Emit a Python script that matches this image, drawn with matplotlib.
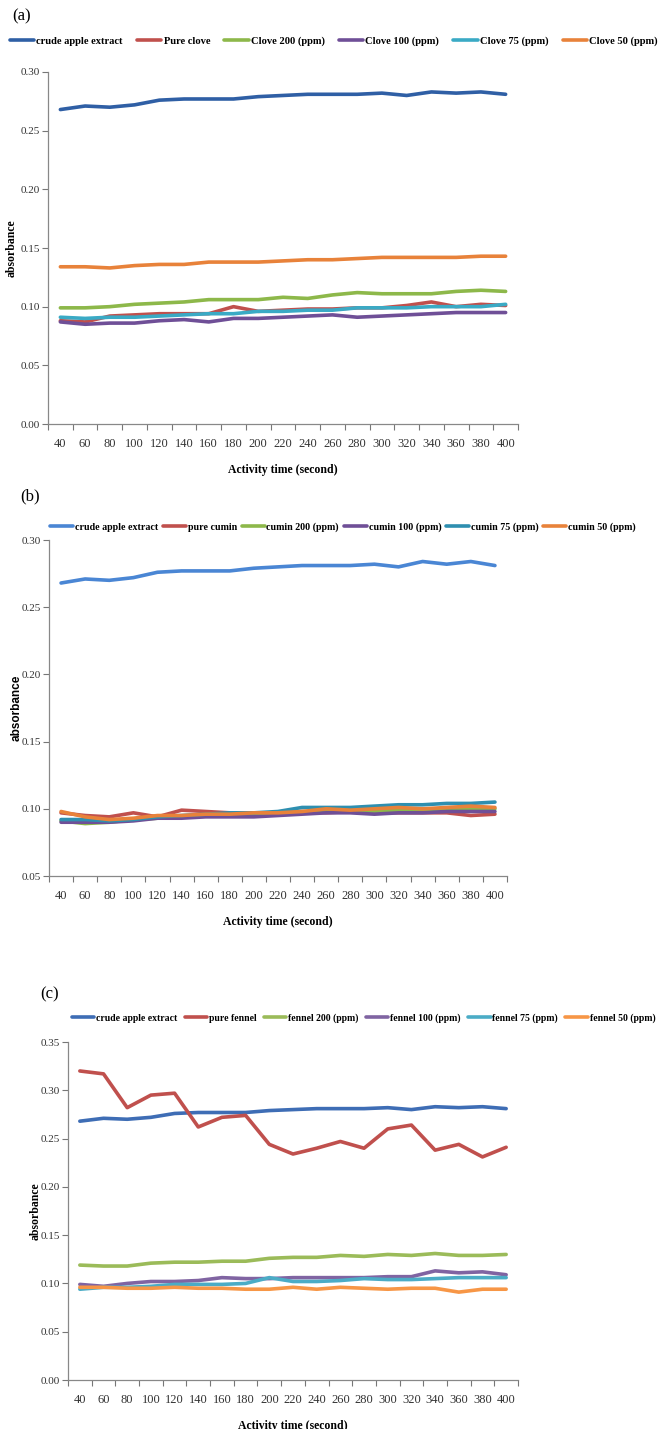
import matplotlib
matplotlib.use("Agg")
import matplotlib.pyplot as plt
import numpy as np

times = [40, 60, 80, 100, 120, 140, 160, 180, 200, 220, 240, 260, 280, 300, 320, 340, 360, 380, 400]

# Panel (a) clove
a_labels = ["crude apple extract", "Pure clove", "Clove 200 (ppm)", "Clove 100 (ppm)", "Clove 75 (ppm)", "Clove 50 (ppm)"]
a_crude = [0.268, 0.271, 0.270, 0.272, 0.276, 0.277, 0.277, 0.277, 0.279, 0.280, 0.281, 0.281, 0.281, 0.282, 0.280, 0.283, 0.282, 0.283, 0.281]
a_pure = [0.088, 0.087, 0.092, 0.093, 0.094, 0.094, 0.094, 0.100, 0.096, 0.097, 0.098, 0.098, 0.099, 0.099, 0.101, 0.104, 0.100, 0.102, 0.101]
a_200 = [0.099, 0.099, 0.100, 0.102, 0.103, 0.104, 0.106, 0.106, 0.106, 0.108, 0.107, 0.110, 0.112, 0.111, 0.111, 0.111, 0.113, 0.114, 0.113]
a_100 = [0.087, 0.085, 0.086, 0.086, 0.088, 0.089, 0.087, 0.090, 0.090, 0.091, 0.092, 0.093, 0.091, 0.092, 0.093, 0.094, 0.095, 0.095, 0.095]
a_75 = [0.091, 0.090, 0.091, 0.091, 0.092, 0.093, 0.094, 0.094, 0.096, 0.096, 0.097, 0.097, 0.099, 0.099, 0.099, 0.100, 0.100, 0.100, 0.102]
a_50 = [0.134, 0.134, 0.133, 0.135, 0.136, 0.136, 0.138, 0.138, 0.138, 0.139, 0.140, 0.140, 0.141, 0.142, 0.142, 0.142, 0.142, 0.143, 0.143]

# Panel (b) cumin
b_labels = ["crude apple extract", "pure cumin", "cumin 200 (ppm)", "cumin 100 (ppm)", "cumin 75 (ppm)", "cumin 50 (ppm)"]
b_crude = [0.268, 0.271, 0.270, 0.272, 0.276, 0.277, 0.277, 0.277, 0.279, 0.280, 0.281, 0.281, 0.281, 0.282, 0.280, 0.284, 0.282, 0.284, 0.281]
b_pure = [0.097, 0.095, 0.094, 0.097, 0.094, 0.099, 0.098, 0.097, 0.097, 0.097, 0.098, 0.097, 0.098, 0.097, 0.097, 0.097, 0.097, 0.095, 0.096]
b_200 = [0.091, 0.089, 0.090, 0.092, 0.093, 0.094, 0.095, 0.096, 0.096, 0.096, 0.097, 0.098, 0.098, 0.098, 0.099, 0.099, 0.100, 0.100, 0.100]
b_100 = [0.090, 0.090, 0.090, 0.091, 0.093, 0.093, 0.094, 0.094, 0.094, 0.095, 0.096, 0.097, 0.097, 0.096, 0.097, 0.097, 0.098, 0.098, 0.098]
b_75 = [0.092, 0.092, 0.091, 0.092, 0.094, 0.095, 0.096, 0.097, 0.097, 0.098, 0.101, 0.101, 0.101, 0.102, 0.103, 0.103, 0.104, 0.104, 0.105]
b_50 = [0.098, 0.094, 0.092, 0.093, 0.095, 0.095, 0.096, 0.096, 0.097, 0.097, 0.098, 0.100, 0.099, 0.100, 0.101, 0.100, 0.101, 0.102, 0.101]

# Panel (c) fennel
c_labels = ["crude apple extract", "pure fennel", "fennel 200 (ppm)", "fennel 100 (ppm)", "fennel 75 (ppm)", "fennel 50 (ppm)"]
c_crude = [0.268, 0.271, 0.270, 0.272, 0.276, 0.277, 0.277, 0.277, 0.279, 0.280, 0.281, 0.281, 0.281, 0.282, 0.280, 0.283, 0.282, 0.283, 0.281]
c_pure = [0.320, 0.317, 0.282, 0.295, 0.297, 0.262, 0.272, 0.274, 0.244, 0.234, 0.240, 0.247, 0.240, 0.260, 0.264, 0.238, 0.244, 0.231, 0.241]
c_200 = [0.119, 0.118, 0.118, 0.121, 0.122, 0.122, 0.123, 0.123, 0.126, 0.127, 0.127, 0.129, 0.128, 0.130, 0.129, 0.131, 0.129, 0.129, 0.130]
c_100 = [0.099, 0.097, 0.100, 0.102, 0.102, 0.103, 0.106, 0.105, 0.105, 0.106, 0.106, 0.106, 0.106, 0.107, 0.107, 0.113, 0.111, 0.112, 0.109]
c_75 = [0.094, 0.096, 0.096, 0.097, 0.099, 0.099, 0.099, 0.100, 0.106, 0.102, 0.102, 0.103, 0.105, 0.104, 0.104, 0.105, 0.106, 0.106, 0.106]
c_50 = [0.096, 0.096, 0.095, 0.095, 0.096, 0.095, 0.095, 0.094, 0.094, 0.096, 0.094, 0.096, 0.095, 0.094, 0.095, 0.095, 0.091, 0.094, 0.094]

W, H = 664, 1429
fig = plt.figure(figsize=(W / 100, H / 100), dpi=100)
SERIF = ["Liberation Serif", "DejaVu Serif"]

def box(l, r, t, b):
    return [l / W, 1 - b / H, (r - l) / W, (b - t) / H]

def panel(rect, series, labels, colors, ylim, yticks, tag, tagxy, legxy, legsize, legspace,
          ylab_family, ylab_x):
    ax = fig.add_axes(rect)
    x = np.arange(len(times))
    for s, lab, col in zip(series, labels, colors):
        ax.plot(x, s, color=col, lw=2.6, label=lab, solid_capstyle="round")
    ax.set_xlim(-0.5, len(times) - 0.5)
    ax.set_ylim(*ylim)
    ax.set_yticks(yticks)
    ax.set_yticklabels([f"{v:.2f}" for v in yticks], family=SERIF, fontsize=8, color="#333333")
    ax.set_xticks(np.arange(-0.5, len(times)), minor=False)
    ax.set_xticklabels([])
    ax.set_xticks(x, minor=True)
    ax.set_xticklabels([str(t) for t in times], minor=True, family=SERIF, fontsize=9, color="#333333")
    ax.tick_params(axis="x", which="minor", length=0, pad=10)
    ax.tick_params(axis="both", which="major", length=4, color="#777777", width=0.8)
    ax.tick_params(axis="y", which="major", pad=2)
    for sp in ["top", "right"]:
        ax.spines[sp].set_visible(False)
    for sp in ["left", "bottom"]:
        ax.spines[sp].set_color("#888888")
        ax.spines[sp].set_linewidth(0.9)
    ax.set_xlabel("Activity time (second)", family=SERIF, fontweight="bold", fontsize=8.5, labelpad=10)
    ax.set_ylabel("absorbance", family=ylab_family, fontweight="bold", fontsize=8.5)
    ax.yaxis.set_label_coords(ylab_x, 0.5)
    fig.text(tagxy[0] / W, 1 - tagxy[1] / H, tag, family=SERIF, fontsize=12, va="center")
    fig.legend(*ax.get_legend_handles_labels(), loc="center left",
               bbox_to_anchor=(legxy[0] / W, 1 - legxy[1] / H), ncol=6, frameon=False,
               prop={"family": SERIF, "weight": "bold", "size": legsize},
               handlelength=2.3, handletextpad=0.2, columnspacing=legspace, borderaxespad=0,
               borderpad=0)
    return ax

col_std = ["#3E6DB5", "#C0504D", "#9BBB59", "#8064A2", "#4BACC6", "#F79646"]
col_a = ["#2F5FA5", "#C0504D", "#8DB84A", "#6F4F97", "#3AAAC5", "#E8823A"]
col_b = ["#4A86D4", "#C0504D", "#8DB84A", "#6F4F97", "#2E8FB0", "#E8823A"]

panel(box(48, 518, 72, 424), [a_crude, a_pure, a_200, a_100, a_75, a_50], a_labels, col_a,
      (0, 0.30), [0.00, 0.05, 0.10, 0.15, 0.20, 0.25, 0.30], "(a)", (12, 16), (10, 41), 7.6, 1.35,
      SERIF, -0.064)
panel(box(49, 507, 540, 876), [b_crude, b_pure, b_200, b_100, b_75, b_50], b_labels, col_b,
      (0.05, 0.30), [0.05, 0.10, 0.15, 0.20, 0.25, 0.30], "(b)", (20, 496), (50, 527), 7.2, 0.45,
      ["Liberation Sans", "DejaVu Sans"], -0.058)
panel(box(68, 518, 1042, 1380), [c_crude, c_pure, c_200, c_100, c_75, c_50], c_labels, col_std,
      (0, 0.35), [0.00, 0.05, 0.10, 0.15, 0.20, 0.25, 0.30, 0.35], "(c)", (40, 994), (72, 1018), 7.0, 0.75,
      SERIF, -0.058)

fig.savefig("out.png", dpi=100)
